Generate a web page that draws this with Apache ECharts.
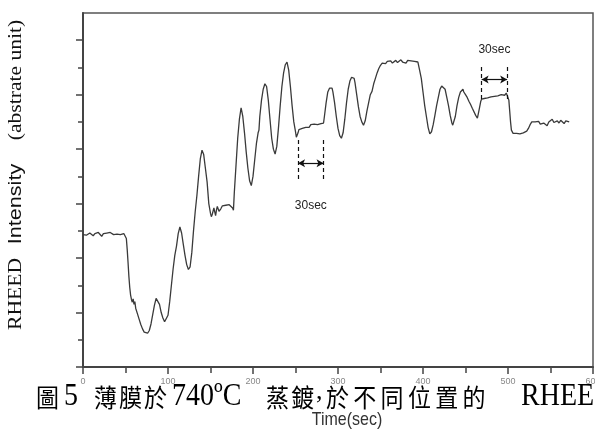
<!DOCTYPE html>
<html>
<head>
<meta charset="utf-8">
<script src="https://cdn.jsdelivr.net/npm/echarts@6/dist/echarts.min.js"></script>
<style>
  html, body { margin: 0; padding: 0; background: #fff; }
  #chart { width: 595px; height: 430px; }
</style>
</head>
<body>
<div id="chart"></div>
<script>
// Time axis ticks (seconds) and intensity tick values (arbitrary units)
const timeTicks = [0, 100, 200, 300, 400, 500, 600];
const intensityMajorTicks = [0, 1, 2, 3, 4, 5, 6];
const intensityMinorTicks = [0.5, 1.5, 2.5, 3.5, 4.5, 5.5];

// RHEED intensity trace: [time (sec), intensity]
const tracePoints = [
  [0,2.43],[2,2.45],[4,2.42],[6,2.44],[8,2.46],[10,2.43],[12,2.41],[14,2.45],[16,2.43],[18,2.47],
  [20,2.44],[22,2.40],[24,2.45],[26,2.42],[28,2.46],[30,2.44],[32,2.47],[34,2.45],[36,2.43],[38,2.46],
  [40,2.44],[42,2.47],[44,2.43],[46,2.46],[48,2.45],[50,2.44],[51,2.36],[52,2.16],[53,1.92],[54,1.66],
  [55,1.46],[56,1.32],[57,1.24],[58,1.19],[59,1.25],[60,1.15],[61,1.2],[62,1.08],[63,1.05],[64,0.98],
  [66,0.88],[68,0.78],[70,0.7],[72,0.64],[74,0.61],[76,0.62],[78,0.67],[80,0.79],[82,0.96],[84,1.13],
  [86,1.26],[87,1.29],[88,1.27],[90,1.15],[92,1.0],[94,0.9],[96,0.83],[97,0.81],[98,0.83],[100,0.95],
  [102,1.2],[104,1.5],[106,1.8],[108,2.05],[110,2.22],[112,2.45],[114,2.57],[115,2.55],[116,2.46],[118,2.25],
  [120,2.05],[122,1.88],[124,1.79],[125,1.79],[126,1.84],[128,2.1],[130,2.5],[132,2.85],[134,3.15],[136,3.5],
  [138,3.82],[140,3.98],[141,3.95],[142,3.9],[144,3.65],[146,3.4],[148,3.0],[150,2.82],[151,2.76],[152,2.8],
  [154,2.92],[155,2.85],[156,2.78],[157,2.88],[158,2.95],[160,2.86],[162,2.9],[164,2.96],[166,2.93],[168,2.97],
  [170,2.94],[172,2.98],[174,2.95],[176,2.92],[177,2.88],[178,3.2],[180,3.7],[182,4.2],[184,4.55],[186,4.76],
  [187,4.74],[188,4.6],[190,4.3],[192,3.95],[194,3.65],[196,3.42],[198,3.33],[199,3.36],[200,3.5],[202,3.8],
  [204,4.1],[206,4.3],[207,4.35],[208,4.6],[210,4.9],[212,5.1],[214,5.2],[215,5.22],[216,5.15],[218,4.9],
  [220,4.55],[222,4.2],[224,4.0],[226,3.91],[227,3.92],[228,4.05],[230,4.4],[232,4.8],[234,5.15],[236,5.4],
  [238,5.55],[240,5.6],[241,5.57],[242,5.45],[244,5.15],[246,4.8],[248,4.5],[250,4.32],[251,4.22],[252,4.25],
  [253,4.3],[254,4.36],[256,4.33],[258,4.38],[260,4.36],[262,4.4],[264,4.42],[266,4.4],[268,4.45],[270,4.43],
  [272,4.46],[274,4.47],[276,4.45],[278,4.48],[280,4.47],[282,4.49],[283,4.48],[284,4.6],[286,4.85],[288,5.05],
  [290,5.12],[292,5.15],[293,5.12],[294,5.05],[296,4.85],[298,4.6],[300,4.38],[302,4.25],[304,4.2],[305,4.22],
  [306,4.3],[308,4.55],[310,4.85],[312,5.1],[314,5.25],[316,5.32],[318,5.34],[319,5.3],[320,5.22],[322,5.0],
  [324,4.78],[326,4.6],[328,4.5],[330,4.44],[331,4.45],[332,4.52],[334,4.7],[336,4.85],[338,5.0],[339,5.03],
  [340,5.06],[342,5.2],[344,5.3],[346,5.4],[348,5.48],[350,5.54],[352,5.58],[354,5.6],[356,5.57],[358,5.61],
  [360,5.59],[362,5.62],[364,5.58],[366,5.6],[368,5.63],[370,5.59],[372,5.61],[374,5.64],[376,5.6],[378,5.62],
  [380,5.58],[382,5.63],[384,5.6],[386,5.62],[388,5.64],[390,5.61],[392,5.63],[394,5.6],[396,5.45],[398,5.3],
  [400,5.05],[402,4.8],[404,4.6],[406,4.4],[408,4.28],[410,4.32],[412,4.45],[414,4.62],[416,4.8],[418,4.95],
  [420,5.1],[422,5.16],[423,5.18],[424,5.15],[426,5.1],[428,4.95],[430,4.8],[432,4.62],[434,4.48],[435,4.44],
  [436,4.47],[438,4.6],[440,4.8],[442,4.95],[444,5.05],[446,5.08],[447,5.1],[448,5.05],[450,5.0],[452,4.95],
  [454,4.88],[456,4.82],[458,4.75],[459,4.78],[460,4.72],[462,4.62],[464,4.57],[465,4.6],[466,4.72],[468,4.88],
  [469,4.92],[470,4.9],[472,4.93],[474,4.95],[476,4.94],[478,4.97],[480,4.96],[482,4.98],[484,4.97],[486,5.0],
  [488,4.98],[490,5.01],[492,5.0],[494,5.02],[496,4.99],[498,5.03],[500,5.0],[501,4.9],[502,4.7],[503,4.5],
  [504,4.35],[506,4.29],[508,4.27],[510,4.29],[512,4.26],[514,4.28],[516,4.27],[518,4.3],[520,4.29],[522,4.33],
  [524,4.38],[526,4.45],[528,4.5],[530,4.53],[532,4.5],[534,4.47],[536,4.51],[538,4.46],[540,4.44],[542,4.48],
  [544,4.45],[546,4.43],[548,4.5],[550,4.47],[552,4.55],[554,4.49],[556,4.46],[558,4.52],[560,4.48],[562,4.53],
  [564,4.5],[566,4.47],[568,4.52],[570,4.49],[572,4.5]
];

// 30-second interval markers: [start, end] in seconds, with the intensity
// levels for the dashed guides, the double arrow and the caption
const markerSpans = [[253, 283], [469, 499]];
const markerTops = [4.17, 5.51];
const markerBottoms = [3.40, 4.88];
const markerArrowLevels = [3.74, 5.28];
const markerLabelLevels = [2.97, 5.82];
const markerLabel = '30sec';

const axisColor = '#444';
const serif = '"Liberation Serif", "Times New Roman", serif';
const sans = '"Liberation Sans", Arial, sans-serif';
const cjk = '"Noto Sans CJK TC", "Noto Sans CJK SC", sans-serif';

const guideLines = [];
const arrowLines = [];
const labelPoints = [];
markerSpans.forEach(function (span, i) {
  span.forEach(function (t) {
    guideLines.push([{ coord: [t, markerTops[i]] }, { coord: [t, markerBottoms[i]] }]);
  });
  arrowLines.push([
    { coord: [span[0], markerArrowLevels[i]], symbol: 'arrow', symbolSize: [6, 7],
      lineStyle: { type: 'solid', width: 1.2, color: '#111' } },
    { coord: [span[1], markerArrowLevels[i]], symbol: 'arrow', symbolSize: [6, 7] }
  ]);
  labelPoints.push({ coord: [(span[0] + span[1]) / 2, markerLabelLevels[i]] });
});

// Caption below the chart: latin pieces in a serif face, CJK characters
// laid out one by one with an even pitch
function latinPiece(text, x, size) {
  return {
    type: 'text', x: x, y: 397, scaleY: 1.12, z: 100,
    style: { text: text, fontFamily: serif, fontSize: size, fill: '#000',
             textAlign: 'left', textVerticalAlign: 'middle' }
  };
}
function cjkRun(text, x, pitch) {
  return Array.from(text).map(function (ch, k) {
    return {
      type: 'text', x: x + k * pitch, y: 397, scaleY: 1.1, z: 100,
      style: { text: ch, fontFamily: cjk, fontSize: 23, fill: '#000',
               textAlign: 'left', textVerticalAlign: 'middle' }
    };
  });
}
function axisTitlePiece(text, y, family) {
  return {
    type: 'text', x: 16.5, y: y, rotation: Math.PI / 2, scaleX: 1.2, z: 100,
    style: { text: text, fontFamily: family, fontSize: 18, fill: '#111',
             textAlign: 'center', textVerticalAlign: 'middle' }
  };
}

const captionElements = [].concat(
  cjkRun('圖', 36, 25),
  [latinPiece('5', 64, 28)],
  cjkRun('薄膜於', 94, 25),
  [latinPiece('740ºC', 172, 28)],
  cjkRun('蒸鍍', 266, 25),
  [{ type: 'text', x: 316, y: 392, z: 100,
     style: { text: ',', fontFamily: serif, fontSize: 26, fill: '#000',
              textAlign: 'left', textVerticalAlign: 'middle' } }],
  cjkRun('於不同位置的', 326, 27.3),
  [latinPiece('RHEE', 521, 28)]
);

const chart = echarts.init(document.getElementById('chart'), null, { renderer: 'canvas' });
chart.setOption({
  animation: false,
  backgroundColor: '#fff',
  grid: { left: 83, right: 2, top: 13, bottom: 63, show: true,
          containLabel: false, outerBoundsMode: 'none',
          borderColor: '#555', borderWidth: 1.5, backgroundColor: 'transparent' },
  xAxis: {
    type: 'value', min: timeTicks[0], max: timeTicks[timeTicks.length - 1], interval: 100,
    axisLine: { onZero: false, lineStyle: { color: axisColor, width: 2 } },
    axisTick: { show: true, length: 7, lineStyle: { color: axisColor, width: 1.5 } },
    minorTick: { show: true, splitNumber: 2, length: 6, lineStyle: { color: axisColor, width: 1.5 } },
    splitLine: { show: false },
    axisLabel: { margin: 10, fontSize: 9, color: '#888', fontFamily: sans,
                 showMinLabel: true, showMaxLabel: true }
  },
  yAxis: [
    {
      type: 'value', min: 0, max: 6.5,
      axisLine: { show: true, onZero: false, lineStyle: { color: axisColor, width: 2 } },
      axisTick: { show: true, length: 7, customValues: intensityMajorTicks,
                  lineStyle: { color: axisColor, width: 1.5 } },
      axisLabel: { show: false },
      splitLine: { show: false }
    },
    {
      type: 'value', min: 0, max: 6.5, position: 'left', offset: 0,
      axisLine: { show: false },
      axisTick: { show: true, length: 5, customValues: intensityMinorTicks,
                  lineStyle: { color: axisColor, width: 1.5 } },
      axisLabel: { show: false },
      splitLine: { show: false }
    }
  ],
  series: [
    {
      type: 'line',
      data: tracePoints,
      showSymbol: false,
      smooth: false,
      z: 3,
      lineStyle: { color: '#3a3a3a', width: 1.3 },
      markLine: {
        silent: true,
        symbol: 'none',
        label: { show: false },
        lineStyle: { color: '#111', width: 1.2, type: [4, 3] },
        data: guideLines.concat(arrowLines)
      },
      markPoint: {
        silent: true,
        symbol: 'circle',
        symbolSize: 0,
        label: { show: true, position: 'inside', formatter: markerLabel,
                 color: '#222', fontSize: 12, fontFamily: sans },
        data: labelPoints
      }
    }
  ],
  graphic: [
    axisTitlePiece('(abstrate unit)', 80, serif),
    axisTitlePiece('Intensity', 204, sans),
    axisTitlePiece('RHEED', 294, serif)
  ].concat(captionElements, [
    { type: 'text', x: 347, y: 420, scaleY: 1.12, z: 100,
      style: { text: 'Time(sec)', fontFamily: sans, fontSize: 16, fill: '#333',
               textAlign: 'center', textVerticalAlign: 'middle' } }
  ])
});
</script>
</body>
</html>
